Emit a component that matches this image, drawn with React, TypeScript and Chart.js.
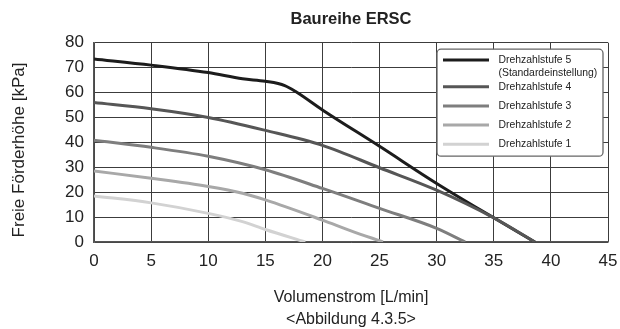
import React, { useEffect, useRef } from "react";
import { Chart, registerables } from "chart.js";

Chart.register(...registerables);

const chartTitle = "Baureihe ERSC";
const xAxisTitle = ["Volumenstrom [L/min]", "<Abbildung 4.3.5>"];
const yAxisTitle = "Freie Förderhöhe [kPa]";

const xTicks = [0, 5, 10, 15, 20, 25, 30, 35, 40, 45];
const yTicks = [0, 10, 20, 30, 40, 50, 60, 70, 80];

const seriesNames = [
  ["Drehzahlstufe 5", "(Standardeinstellung)"],
  ["Drehzahlstufe 4"],
  ["Drehzahlstufe 3"],
  ["Drehzahlstufe 2"],
  ["Drehzahlstufe 1"],
];
const seriesColors = ["#1c1c1c", "#565656", "#7e7e7e", "#a8a8a8", "#d2d2d2"];

const stage5X = [0, 5, 10, 13, 15, 16.7, 17.75, 20, 25, 30, 35, 38.6];
const stage5Y = [73.5, 71, 68, 65.5, 64.5, 62.8, 60.1, 53, 38.4, 23.5, 9.7, 0];
const stage4X = [0, 5, 10, 15, 20, 25, 30, 35, 38.6];
const stage4Y = [56, 53.5, 50, 44.8, 38.8, 29.8, 20.8, 9.7, 0];
const stage3X = [0, 5, 10, 15, 20, 25, 30, 32.5];
const stage3Y = [40.8, 38, 34.4, 29, 21.5, 13.5, 5.5, 0];
const stage2X = [0, 5, 10, 13, 15, 20, 22.5, 25.3];
const stage2Y = [28.5, 25.6, 22.3, 19.6, 16.9, 8.8, 4.5, 0];
const stage1X = [0, 5, 10, 13, 15, 18.5];
const stage1Y = [18.5, 15.7, 11.5, 8.2, 5, 0];

const seriesX = [stage5X, stage4X, stage3X, stage2X, stage1X];
const seriesY = [stage5Y, stage4Y, stage3Y, stage2Y, stage1Y];

const FONT = "'Liberation Sans', Arial, sans-serif";

const extrasPlugin = {
  id: "extras",
  afterDatasetsDraw(chart: any) {
    const { ctx, chartArea } = chart;
    ctx.save();
    // legend box
    const bx = chartArea.right - 171;
    const by = chartArea.top + 6.5;
    const bw = 166;
    const bh = 107;
    ctx.beginPath();
    (ctx as any).roundRect(bx, by, bw, bh, 4);
    ctx.fillStyle = "#ffffff";
    ctx.fill();
    ctx.lineWidth = 1.3;
    ctx.strokeStyle = "#666666";
    ctx.stroke();
    const rowOffsets = [17.3, 44, 63.3, 82.3, 101.6];
    ctx.font = `10.4px ${FONT}`;
    ctx.textBaseline = "middle";
    ctx.textAlign = "left";
    seriesNames.forEach((lines, i) => {
      const y = chartArea.top + rowOffsets[i];
      ctx.beginPath();
      ctx.moveTo(bx + 6, y);
      ctx.lineTo(bx + 52, y);
      ctx.strokeStyle = seriesColors[i];
      ctx.lineWidth = 3;
      ctx.stroke();
      ctx.fillStyle = "#222222";
      lines.forEach((t, j) => ctx.fillText(t, bx + 61.5, y + j * 13.3));
    });
    // chart title
    ctx.fillStyle = "#222222";
    ctx.textAlign = "center";
    ctx.textBaseline = "middle";
    ctx.font = `bold 16.5px ${FONT}`;
    ctx.fillText(chartTitle, (chartArea.left + chartArea.right) / 2, 19);
    // y axis title
    ctx.translate(19, 150);
    ctx.rotate(-Math.PI / 2);
    ctx.font = `17px ${FONT}`;
    ctx.fillText(yAxisTitle, 0, 0);
    ctx.restore();
  },
};

export default function App() {
  const ref = useRef<HTMLCanvasElement>(null);
  useEffect(() => {
    if (!ref.current) return;
    const chart = new Chart(ref.current, {
      type: "line",
      data: {
        datasets: seriesNames.map((n, i) => ({
          label: n.join(" "),
          data: seriesX[i].map((x, k) => ({ x, y: seriesY[i][k] })),
          borderColor: seriesColors[i],
          backgroundColor: seriesColors[i],
          borderWidth: 3,
          pointRadius: 0,
          cubicInterpolationMode: "monotone" as const,
          fill: false,
          order: 5 - i,
        })),
      },
      options: {
        animation: false,
        responsive: false,
        maintainAspectRatio: false,
        layout: { padding: { left: 0, right: 12, top: 42.7, bottom: 0 } },
        plugins: {
          legend: { display: false },
          tooltip: { enabled: false },
          title: { display: false },
        },
        scales: {
          x: {
            type: "linear",
            min: 0,
            max: 45,
            afterBuildTicks: (s: any) => {
              s.ticks = xTicks.map((v) => ({ value: v }));
            },
            afterFit: (s: any) => {
              s.height = 87;
              s.paddingLeft = 0;
              s.paddingRight = 0;
            },
            ticks: {
              color: "#222222",
              font: { family: FONT, size: 17 },
              padding: 9,
              maxRotation: 0,
            },
            grid: { color: "#3c3c3c", lineWidth: 1, drawTicks: false },
            border: { color: "#555555", width: 1.5 },
            title: {
              display: true,
              text: xAxisTitle,
              color: "#222222",
              font: { family: FONT, size: 16, lineHeight: 1.375 },
              padding: { top: 0, bottom: -2 },
            },
          },
          y: {
            type: "linear",
            min: 0,
            max: 80,
            afterBuildTicks: (s: any) => {
              s.ticks = yTicks.map((v) => ({ value: v }));
            },
            afterFit: (s: any) => {
              s.width = 94;
              s.paddingTop = 0;
              s.paddingBottom = 0;
            },
            ticks: {
              color: "#222222",
              font: { family: FONT, size: 17 },
              padding: 10,
            },
            grid: { color: "#3c3c3c", lineWidth: 1, drawTicks: false },
            border: { color: "#555555", width: 1.5 },
          },
        },
      },
      plugins: [extrasPlugin],
    });
    return () => chart.destroy();
  }, []);
  return (
    <div style={{ position: "fixed", left: 0, top: 0, width: 620, height: 329, background: "#fff" }}>
      <canvas ref={ref} width={620} height={329} style={{ display: "block" }} />
    </div>
  );
}
